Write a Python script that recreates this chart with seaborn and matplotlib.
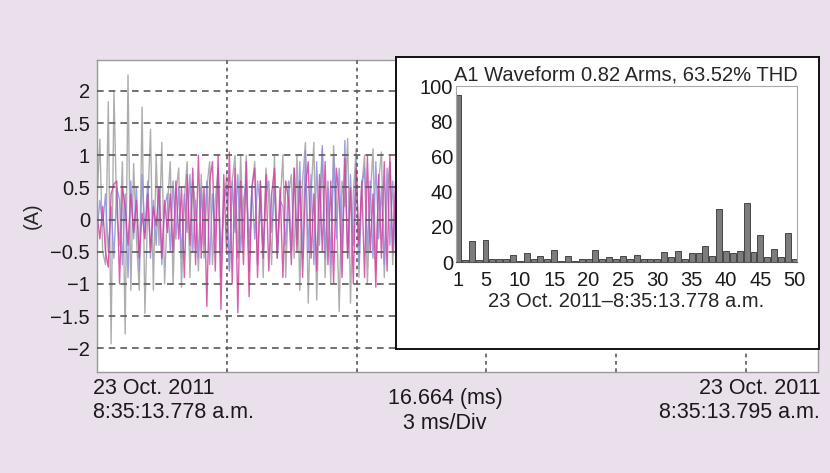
import numpy as np
import pandas as pd
import matplotlib
matplotlib.use("Agg")
import matplotlib.pyplot as plt
import seaborn as sns

# ---------------- data ----------------
cycle_ms = 16.664
samples_per_cycle = 256

gray_wave = [0.3, 1.25, -0.5, -0.7, 1.83, -1.93, 2.0, 0.1, -0.4, 0.9,
             -1.78, 2.25, -1.1, 0.87, -0.3, -1.1, 1.75, -1.46, 0.2, 1.4,
             -1.1, 1.0, -0.4, 1.2, -1.0, 0.2, 0.9, -1.0, 0.4, 0.8,
             -1.05, 0.3, 0.9, -0.9, 0.6, 0.2, -0.8, 0.7, -0.6, 0.5,
             0.9, -0.7, 0.3, 0.8, -0.9, 0.2, 0.7, -0.8, 0.6, 1.0,
             -0.6, 1.0, -0.3, 1.0, -0.8, 0.5, 0.9, -0.7, 0.6, -0.9,
             0.8, 0.3, -0.7, 1.0, -0.5, 0.2, 1.0, -0.9, 0.4, 0.7,
             -0.6, 1.0, -1.1, 0.6, 1.2, -1.3, 0.4, 1.2, -1.25, 0.3,
             1.1, -0.9, 0.5, -1.0, 1.15, 0.2, -1.43, 0.6, 0.2, 1.26,
             -1.3, 0.4, 1.1, -0.9, 0.5, 1.0, -1.0, 0.3, 1.1, -0.8,
             0.6, 1.05, -0.9, 0.4, 0.9, -0.7, 0.5, 0.8]

blue_wave = [-0.2, 0.3, -0.1, 0.4, -0.5, 0.2, -0.6, 0.5, 0.3, -0.7,
             0.4, -0.9, 0.6, -0.3, 0.5, -0.8, 0.7, -0.2, 0.6, -0.6,
             0.3, -0.4, 0.5, -0.7, 0.2, 0.4, -0.5, 0.6, -0.3, 0.5,
             -0.6, 0.4, -0.2, 0.7, -0.5, 0.3, -0.6, 0.5, -0.4, 0.6,
             -0.7, 0.4, -0.3, 0.8, -0.6, 0.3, 0.5, -0.8, 0.6, -0.2,
             0.7, -0.5, 0.3, 0.6, -0.4, 0.5, -0.3, 0.6, 0.2, -0.5,
             0.4, 0.6, -0.2, 0.5, -0.6, 0.3, 0.2, -0.4, 0.6, -0.5,
             0.8, -0.3, 0.9, -0.6, 1.07, -0.5, 0.7, -0.7, 0.9, -0.4,
             1.15, -0.6, 0.6, -0.7, 1.0, -0.3, 0.8, -0.5, 1.23, -0.6,
             0.7, -0.4, 0.9, -0.7, 0.5, 0.8, -0.5, 0.6, -0.6, 0.9,
             -0.3, 0.5, -0.7, 0.8, -0.4, 0.6, -0.5, 0.4]

magenta_wave = [0.1, -0.3, 0.2, -0.5, -0.74, 0.4, 0.55, 0.6, -1.0, 0.5,
                0.2, -0.4, 0.4, -0.2, 0.3, -0.6, 0.1, -0.3, 0.4, -0.5,
                0.2, -0.1, 0.5, -0.6, 0.3, -0.2, 0.4, -0.5, 0.6, -0.3,
                0.5, -0.9, 0.7, -0.4, 0.8, -0.7, 1.0, -0.6, 0.5, -1.35,
                0.6, 0.9, -0.8, 1.0, -1.4, 0.7, -0.5, 1.05, -1.0, 0.8,
                -1.45, 0.6, -0.7, 0.9, -1.2, 0.5, 0.8, -0.9, 0.6, -0.6,
                0.7, -0.8, 0.4, 0.8, -0.6, 0.5, -0.9, 0.6, 0.3, -0.7,
                0.8, -0.5, 0.6, -0.9, 0.5, 0.9, -0.6, 0.4, -0.8, 0.7,
                -0.5, 0.9, -0.7, 0.6, -1.0, 0.8, 0.3, -0.9, 0.95, -0.6,
                0.5, -1.0, 0.8, -0.4, 0.6, -0.9, 1.0, -0.5, 0.4, -1.05,
                0.7, -0.6, 0.9, -0.8, 1.0, -0.5, 0.6, -0.7]

harmonics = list(range(1, 51))
harmonic_pct = [95, 1, 11.7, 1, 12.3, 2, 1.5, 1.5, 4, 0.8,
                5, 2, 3.4, 2, 7, 0.8, 3.4, 0.8, 2, 2,
                7, 1.5, 2.8, 1.5, 3.4, 1.5, 4, 2, 2, 2,
                5.7, 2.8, 6.2, 2, 5, 5, 8.9, 3.4, 30.4, 6.2,
                5, 6.2, 33.8, 5.7, 15.1, 2.8, 7.6, 2.8, 16.4, 2]

ytick_vals = [-2, -1.5, -1, -0.5, 0, 0.5, 1, 1.5, 2]
ytick_labels = ["\u22122", "\u22121.5", "\u22121", "\u22120.5", "0", "0.5", "1", "1.5", "2"]
inset_xticks = [1, 5, 10, 15, 20, 25, 30, 35, 40, 45, 50]
inset_yticks = [0, 20, 40, 60, 80, 100]
div_ms = 3

# ---------------- style ----------------
sns.set_style("white")
plt.rcParams["font.family"] = ["Liberation Sans", "DejaVu Sans"]
bg = "#e9e0eb"
ink = "#1a1a1a"

fig = plt.figure(figsize=(8.3, 4.73), dpi=100, facecolor=bg)

ax = fig.add_axes([0.1169, 0.2135, 0.8686, 0.6595])
ax.set_facecolor("white")

dt = cycle_ms / samples_per_cycle
n = len(gray_wave)
t = np.arange(n) * dt
df = pd.DataFrame({
    "t": np.concatenate([t, t, t]),
    "v": gray_wave + blue_wave + magenta_wave,
    "s": ["gray"] * n + ["blue"] * n + ["magenta"] * n,
})
sns.lineplot(data=df, x="t", y="v", hue="s",
             hue_order=["gray", "blue", "magenta"],
             palette={"gray": "#a0a0a0", "blue": "#9090e0", "magenta": "#d0449f"},
             linewidth=1.0, alpha=0.85, legend=False, ax=ax,
             estimator=None, sort=False)

ax.set_xlim(0, cycle_ms)
ax.set_ylim(-2.37, 2.48)
ax.set_yticks(ytick_vals)
ax.set_yticklabels(ytick_labels, fontsize=14.5)
ax.set_xticks([])
ax.set_xlabel("")
ax.set_ylabel("(A)", fontsize=14.5, labelpad=6)
ax.tick_params(axis="y", length=0, pad=5, colors=ink)
for yv in ytick_vals:
    ax.axhline(yv, color="#5a5a5a", lw=1.2, ls=(0, (4, 3)), zorder=3)
for xv in np.arange(div_ms, cycle_ms, div_ms):
    ax.axvline(xv, color="#5a5a5a", lw=1.2, ls=(0, (2.2, 2.2)), zorder=3)
for sp in ax.spines.values():
    sp.set_color("#9a9a9a")
    sp.set_linewidth(1.0)

# ---------------- inset ----------------
box = fig.add_axes([0.477, 0.262, 0.510, 0.6175])
box.set_facecolor("white")
box.set_xticks([])
box.set_yticks([])
for sp in box.spines.values():
    sp.set_color("#111111")
    sp.set_linewidth(1.4)
box.set_zorder(5)

axb = fig.add_axes([0.549, 0.446, 0.411, 0.372])
axb.set_zorder(6)
axb.set_facecolor("white")
sns.barplot(x=harmonics, y=harmonic_pct, native_scale=True, color="#7c7c7c",
            saturation=1, edgecolor="#333333", linewidth=0.6, width=0.87, ax=axb)
axb.set_xlim(0.66, 50.3)
axb.set_ylim(0, 100)
axb.set_xticks(inset_xticks)
axb.set_xticklabels([str(v) for v in inset_xticks], fontsize=14.5)
axb.set_yticks(inset_yticks)
axb.set_yticklabels([str(v) for v in inset_yticks], fontsize=14.5)
axb.tick_params(axis="y", direction="in", length=2, pad=2, colors=ink)
axb.tick_params(axis="x", direction="out", length=3, pad=3.5, colors=ink)
axb.set_xlabel("23 Oct. 2011\u20138:35:13.778 a.m.", fontsize=14.5, labelpad=1.5)
axb.set_title("A1 Waveform 0.82 Arms, 63.52% THD", fontsize=14.5, pad=4)
for sp in axb.spines.values():
    sp.set_color("#a8a8a8")
    sp.set_linewidth(0.8)
axb.spines["bottom"].set_color("#555555")

# ---------------- bottom captions ----------------
cap = dict(fontsize=15.5, color=ink, va="center")
fig.text(93 / 830, 1 - 388 / 473, "23 Oct. 2011", ha="left", **cap)
fig.text(93 / 830, 1 - 412 / 473, "8:35:13.778 a.m.", ha="left", **cap)
fig.text(445 / 830, 1 - 398 / 473, "16.664 (ms)", ha="center", **cap)
fig.text(445 / 830, 1 - 423 / 473, "3 ms/Div", ha="center", **cap)
fig.text(820 / 830, 1 - 388 / 473, "23 Oct. 2011", ha="right", **cap)
fig.text(820 / 830, 1 - 412 / 473, "8:35:13.795 a.m.", ha="right", **cap)

fig.savefig("out.png", dpi=100, facecolor=bg)
